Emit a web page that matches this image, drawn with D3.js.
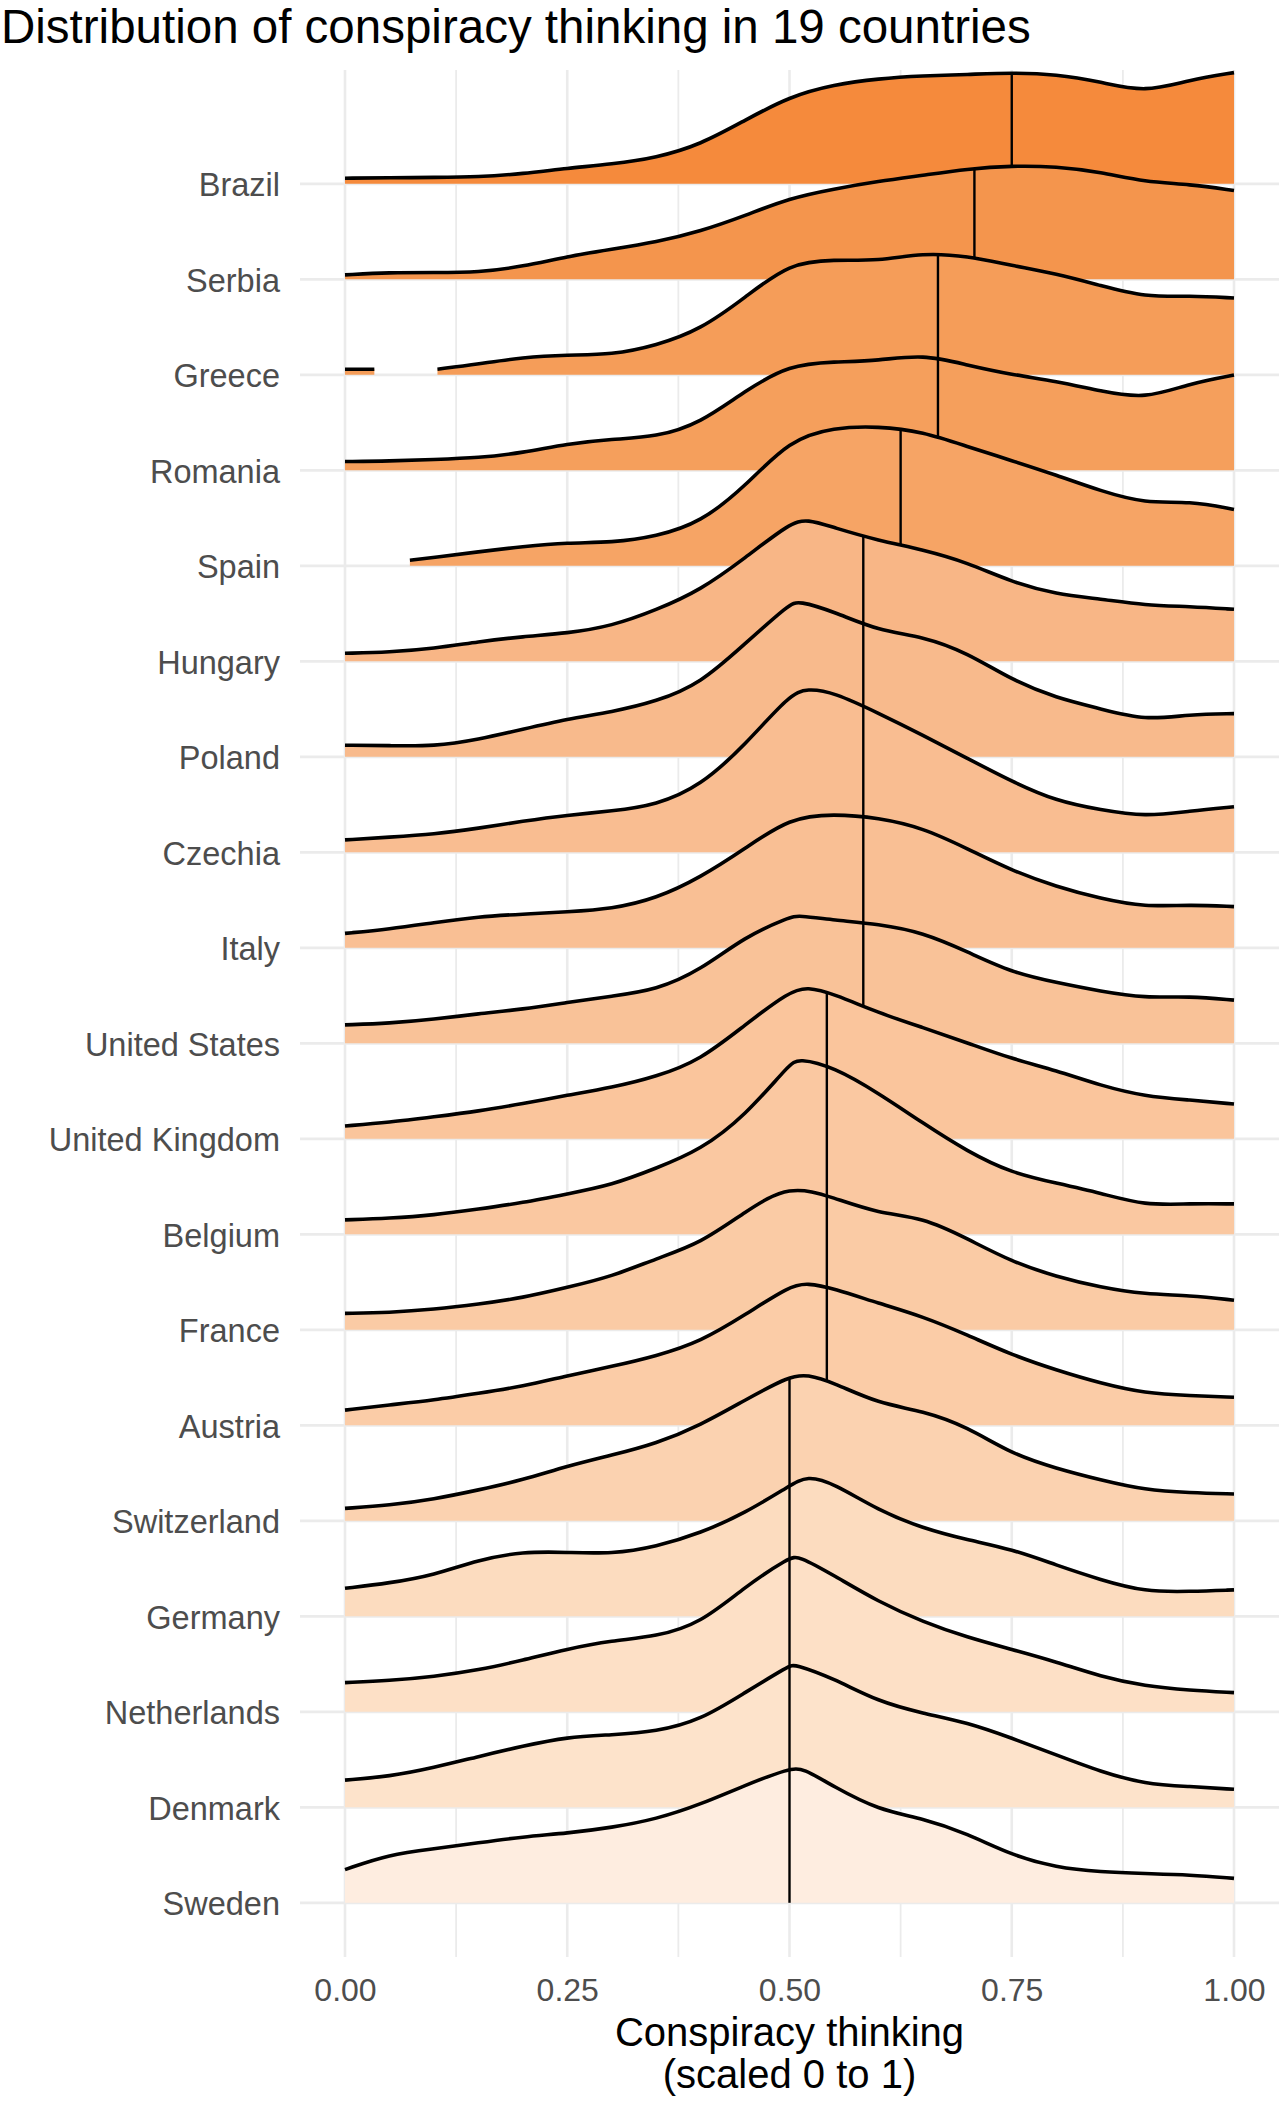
<!DOCTYPE html>
<html>
<head>
<meta charset="utf-8">
<script src="https://cdn.jsdelivr.net/npm/d3@7"></script>
<style>
  html, body { margin: 0; padding: 0; background: #ffffff; }
  svg { display: block; }
  text { font-family: "Liberation Sans", Arial, Helvetica, sans-serif; }
</style>
</head>
<body>
<svg id="chart" width="1280" height="2103"></svg>
<script>
// ---------------- DATA ----------------
const countries = ["Brazil", "Serbia", "Greece", "Romania", "Spain", "Hungary", "Poland", "Czechia", "Italy",
  "United States", "United Kingdom", "Belgium", "France", "Austria", "Switzerland", "Germany",
  "Netherlands", "Denmark", "Sweden"];

const medians = [0.75, 0.708, 0.667, 0.667, 0.625, 0.583, 0.583, 0.583, 0.583, 0.583,
  0.542, 0.542, 0.542, 0.542, 0.5, 0.5, 0.5, 0.5, 0.5];

const fillColors = ["#F58A3C", "#F4954D", "#F59D59", "#F59F5C", "#F6A465", "#F8B686", "#F8BA8C",
  "#F9BD91", "#F9BF94", "#F9C298", "#FAC59C", "#FAC8A1", "#FACBA5", "#FBCCA7", "#FBD2B0",
  "#FCDCBF", "#FDE0C6", "#FDE3CB", "#FEEDE0"];

const xTicks = [0, 0.25, 0.5, 0.75, 1];
const xGridValues = [0, 0.125, 0.25, 0.375, 0.5, 0.625, 0.75, 0.875, 1];

// density estimates: [x, density]; null = below minimum height (not drawn)
const densityBrazil = [[0,.14],[.05,.15],[.1,.16],[.15,.17],[.2,.25],[.25,.39],[.3,.49],[.35,.65],[.4,.98],[.45,1.59],[.5,2.18],[.55,2.48],[.6,2.63],[.65,2.7],[.7,2.73],[.75,2.78],[.8,2.74],[.85,2.55],[.9,2.28],[.95,2.6],[1,2.78]];
const densitySerbia = [[0,.11],[.05,.17],[.1,.17],[.15,.17],[.2,.32],[.25,.57],[.3,.75],[.35,.93],[.4,1.2],[.45,1.59],[.5,2.03],[.55,2.26],[.6,2.45],[.65,2.6],[.7,2.76],[.75,2.84],[.8,2.82],[.85,2.68],[.9,2.43],[.95,2.38],[1,2.22]];
const densityGreece = [[0,.14],[.033,.14],null,[.104,.14],[.15,.27],[.2,.44],[.25,.5],[.3,.5],[.35,.73],[.4,1.13],[.45,1.93],[.5,2.8],[.55,2.88],[.6,2.84],[.65,3.05],[.7,2.97],[.75,2.73],[.8,2.53],[.85,2.23],[.9,1.94],[.95,1.98],[1,1.92]];
const densityRomania = [[0,.22],[.05,.23],[.1,.27],[.15,.31],[.2,.44],[.25,.66],[.3,.78],[.35,.83],[.4,1.18],[.45,1.99],[.5,2.64],[.55,2.71],[.6,2.74],[.65,2.9],[.7,2.63],[.75,2.39],[.8,2.23],[.85,1.98],[.9,1.78],[.95,2.17],[1,2.38]];
const densitySpain = [[.073,.14],[.1,.21],[.15,.35],[.2,.48],[.25,.58],[.3,.58],[.35,.73],[.4,1.08],[.45,1.98],[.5,3.15],[.55,3.46],[.6,3.49],[.65,3.35],[.7,2.98],[.75,2.63],[.8,2.27],[.85,1.87],[.9,1.56],[.95,1.62],[1,1.41]];
const densityHungary = [[0,.2],[.05,.23],[.1,.32],[.15,.49],[.2,.62],[.25,.7],[.3,.88],[.35,1.28],[.4,1.78],[.45,2.58],[.5,3.45],[.52,3.56],[.55,3.34],[.6,3.02],[.65,2.79],[.7,2.47],[.75,1.98],[.8,1.68],[.85,1.56],[.9,1.4],[.95,1.37],[1,1.3]];
const densityPoland = [[0,.29],[.05,.28],[.1,.26],[.15,.43],[.2,.69],[.25,.95],[.3,1.12],[.35,1.38],[.4,1.83],[.45,2.83],[.5,3.82],[.51,3.9],[.55,3.63],[.6,3.15],[.65,3.01],[.7,2.6],[.75,1.92],[.8,1.47],[.85,1.2],[.9,.91],[.95,1.06],[1,1.08]];
const densityCzechia = [[0,.31],[.05,.38],[.1,.45],[.15,.6],[.2,.78],[.25,.93],[.3,1.03],[.35,1.18],[.4,1.66],[.45,2.68],[.5,3.94],[.52,4.1],[.55,4.0],[.6,3.48],[.65,2.93],[.7,2.35],[.75,1.77],[.8,1.28],[.85,1.06],[.9,.89],[.95,1.03],[1,1.14]];
const densityItaly = [[0,.36],[.05,.47],[.1,.63],[.15,.78],[.2,.84],[.25,.9],[.3,.97],[.35,1.23],[.4,1.76],[.45,2.48],[.5,3.25],[.55,3.35],[.6,3.25],[.65,3],[.7,2.48],[.75,1.93],[.8,1.53],[.85,1.23],[.9,1.02],[.95,1.08],[1,1.03]];
const densityUnitedStates = [[0,.46],[.05,.5],[.1,.6],[.15,.74],[.2,.85],[.25,1.02],[.3,1.18],[.35,1.33],[.4,1.83],[.45,2.67],[.5,3.15],[.51,3.2],[.55,3.08],[.6,2.98],[.65,2.77],[.7,2.29],[.75,1.77],[.8,1.52],[.85,1.3],[.9,1.13],[.95,1.18],[1,1.08]];
const densityUnitedKingdom = [[0,.32],[.05,.41],[.1,.55],[.15,.69],[.2,.88],[.25,1.09],[.3,1.28],[.35,1.55],[.4,1.97],[.45,2.85],[.5,3.68],[.52,3.8],[.55,3.62],[.6,3.15],[.65,2.78],[.7,2.4],[.75,2],[.8,1.71],[.85,1.33],[.9,1.06],[.95,.97],[1,.87]];
const densityBelgium = [[0,.36],[.05,.4],[.1,.48],[.15,.63],[.2,.79],[.25,1.01],[.3,1.23],[.35,1.65],[.4,2.11],[.45,2.96],[.5,4.25],[.51,4.4],[.55,4.18],[.6,3.53],[.65,2.78],[.7,2.07],[.75,1.53],[.8,1.28],[.85,1.03],[.9,.72],[.95,.77],[1,.76]];
const densityFrance = [[0,.41],[.05,.43],[.1,.51],[.15,.64],[.2,.8],[.25,1.06],[.3,1.33],[.35,1.78],[.4,2.16],[.45,2.95],[.5,3.64],[.55,3.3],[.6,2.91],[.65,2.81],[.7,2.28],[.75,1.7],[.8,1.33],[.85,1.06],[.9,.89],[.95,.86],[1,.74]];
const densityAustria = [[0,.38],[.05,.51],[.1,.63],[.15,.8],[.2,.97],[.25,1.24],[.3,1.47],[.35,1.73],[.4,2.09],[.45,2.76],[.5,3.48],[.52,3.56],[.55,3.42],[.6,3.05],[.65,2.72],[.7,2.26],[.75,1.76],[.8,1.38],[.85,1.05],[.9,.8],[.95,.74],[1,.7]];
const densitySwitzerland = [[0,.31],[.05,.39],[.1,.54],[.15,.77],[.2,1.02],[.25,1.37],[.3,1.64],[.35,1.93],[.4,2.39],[.45,3.02],[.5,3.62],[.52,3.66],[.55,3.45],[.6,2.93],[.65,2.75],[.7,2.35],[.75,1.67],[.8,1.31],[.85,1.02],[.9,.77],[.95,.7],[1,.67]];
const densityGermany = [[0,.7],[.05,.83],[.1,1.03],[.15,1.41],[.2,1.62],[.25,1.6],[.3,1.56],[.35,1.74],[.4,2.08],[.45,2.58],[.5,3.26],[.52,3.52],[.55,3.32],[.6,2.65],[.65,2.2],[.7,1.91],[.75,1.68],[.8,1.28],[.85,.91],[.9,.61],[.95,.62],[1,.66]];
const densityNetherlands = [[0,.73],[.05,.78],[.1,.88],[.15,1.04],[.2,1.29],[.25,1.57],[.3,1.78],[.35,1.88],[.4,2.21],[.45,3.13],[.5,3.86],[.51,3.9],[.55,3.41],[.6,2.75],[.65,2.25],[.7,1.86],[.75,1.56],[.8,1.25],[.85,.88],[.9,.64],[.95,.54],[1,.48]];
const densityDenmark = [[0,.68],[.05,.77],[.1,.99],[.15,1.27],[.2,1.53],[.25,1.76],[.3,1.81],[.35,1.89],[.4,2.18],[.45,2.87],[.5,3.54],[.505,3.58],[.55,3.22],[.6,2.64],[.65,2.35],[.7,2.12],[.75,1.73],[.8,1.31],[.85,.89],[.9,.58],[.95,.52],[1,.45]];
const densitySweden = [[0,.83],[.05,1.21],[.1,1.35],[.15,1.5],[.2,1.65],[.25,1.74],[.3,1.88],[.35,2.09],[.4,2.46],[.45,2.94],[.5,3.36],[.515,3.37],[.55,2.9],[.6,2.32],[.65,2.11],[.7,1.73],[.75,1.19],[.8,.88],[.85,.77],[.9,.73],[.95,.7],[1,.61]];

const densities = [densityBrazil, densitySerbia, densityGreece, densityRomania, densitySpain, densityHungary,
  densityPoland, densityCzechia, densityItaly, densityUnitedStates, densityUnitedKingdom, densityBelgium,
  densityFrance, densityAustria, densitySwitzerland, densityGermany, densityNetherlands, densityDenmark,
  densitySweden];

// ---------------- LAYOUT ----------------
const svg = d3.select("#chart");
const panel = { left: 300, right: 1279, top: 70, bottom: 1957 };

const x = d3.scaleLinear().domain([0, 1]).range([345, 1234]);
const y = d3.scalePoint().domain(countries).range([183.8, 1902.8]).padding(0);
const h = d3.scaleLinear().domain([0, 1]).range([0, 40]); // density -> pixel height

svg.append("rect").attr("width", 1280).attr("height", 2103).attr("fill", "#ffffff");

// grid
const grid = svg.append("g");
grid.selectAll("line.v").data(xGridValues).join("line")
  .attr("x1", d => x(d)).attr("x2", d => x(d))
  .attr("y1", panel.top).attr("y2", panel.bottom)
  .attr("stroke", "#EBEBEB")
  .attr("stroke-width", d => (Math.abs(d * 4 - Math.round(d * 4)) < 1e-6) ? 2.6 : 1.8);
grid.selectAll("line.h").data(countries).join("line")
  .attr("x1", panel.left).attr("x2", panel.right)
  .attr("y1", d => y(d)).attr("y2", d => y(d))
  .attr("stroke", "#EBEBEB").attr("stroke-width", 2.8);

// ridges
const curve = d3.curveBasis;
const ridges = svg.append("g");

countries.forEach((c, i) => {
  const base = y(c);
  const data = densities[i];
  const area = d3.area()
    .defined(d => d !== null)
    .x(d => x(d[0])).y0(base).y1(d => base - h(d[1]))
    .curve(curve);
  const line = d3.line()
    .defined(d => d !== null)
    .x(d => x(d[0])).y(d => base - h(d[1]))
    .curve(curve);
  const g = ridges.append("g");
  g.append("path").attr("d", area(data)).attr("fill", fillColors[i]).attr("stroke", "none");
  const p = g.append("path").attr("d", line(data)).attr("fill", "none")
    .attr("stroke", "#000").attr("stroke-width", 3.6).attr("stroke-linejoin", "round");

  // median line from baseline to the curve
  const node = p.node();
  const total = node.getTotalLength();
  const tx = x(medians[i]);
  let lo = 0, hi = total;
  for (let k = 0; k < 40; k++) {
    const mid = (lo + hi) / 2;
    if (node.getPointAtLength(mid).x < tx) lo = mid; else hi = mid;
  }
  const top = node.getPointAtLength((lo + hi) / 2).y;
  g.append("line")
    .attr("x1", tx).attr("x2", tx).attr("y1", base).attr("y2", top)
    .attr("stroke", "#000").attr("stroke-width", 2.4);
});

// axes
const xAxis = d3.axisBottom(x).tickValues(xTicks).tickFormat(d3.format(".2f")).tickSize(0).tickPadding(21);
const gx = svg.append("g").attr("transform", `translate(0,${panel.bottom})`).call(xAxis);
gx.select(".domain").remove();
gx.selectAll("text").attr("font-size", 32).attr("fill", "#4D4D4D")
  .attr("font-family", "'Liberation Sans', Arial, sans-serif");

const yAxis = d3.axisLeft(y).tickSize(0).tickPadding(20);
const gy = svg.append("g").attr("transform", `translate(${panel.left},0)`).call(yAxis);
gy.select(".domain").remove();
gy.selectAll("text").attr("font-size", 32.5).attr("fill", "#4D4D4D").attr("dy", "0.36em")
  .attr("font-family", "'Liberation Sans', Arial, sans-serif");

// titles
svg.append("text").attr("x", 1).attr("y", 43)
  .attr("font-size", 47.5).attr("fill", "#000")
  .text("Distribution of conspiracy thinking in 19 countries");

const cx = (panel.left + panel.right) / 2;
svg.append("text").attr("x", cx).attr("y", 2046).attr("text-anchor", "middle")
  .attr("font-size", 40).attr("fill", "#000").text("Conspiracy thinking");
svg.append("text").attr("x", cx).attr("y", 2088).attr("text-anchor", "middle")
  .attr("font-size", 40).attr("fill", "#000").text("(scaled 0 to 1)");
</script>
</body>
</html>
